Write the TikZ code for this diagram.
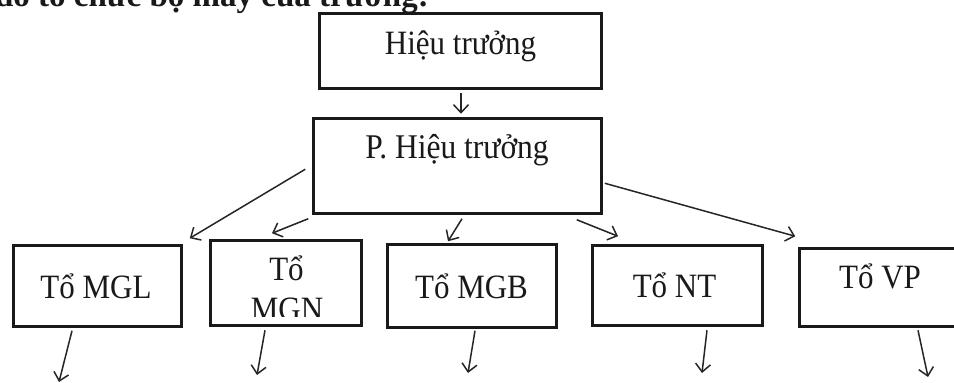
\documentclass[tikz,border=0pt]{standalone}
\usepackage{fontspec}
\usepackage{graphicx}
\setmainfont{Liberation Serif}
\usetikzlibrary{arrows.meta,calc}
\newcommand{\tallx}[1]{\scalebox{1}[1.1]{#1}}
\begin{document}
\begin{tikzpicture}[x=1pt,y=-1pt,
  box/.style={draw=black!90, line width=3.5pt, inner sep=0pt, fill=none},
  lbl/.style={inner sep=0pt, anchor=base, font=\fontsize{31}{33}\selectfont, text=black!90},
  conn/.style={draw=black!85, line width=1.5pt, -{Straight Barb[length=8pt,width=15pt,line width=1.5pt]}}
]
\useasboundingbox (0,0) rectangle (954,383);
\clip (0,0) rectangle (954,383);
\fill[white] (0,0) rectangle (954,383);

% clipped header line
\node[inner sep=0pt, anchor=base west, font=\fontsize{33}{35}\selectfont\bfseries, text=black!90] (hdr) at (-50,6) {Sơ đồ tổ chức bộ máy của trường:};

% boxes
\node[box, minimum width=282pt, minimum height=75pt] (ht) at (460.5,51) {};
\node[box, minimum width=288pt, minimum height=95pt] (pht) at (457.5,166) {};
\node[box, minimum width=168pt, minimum height=81pt] (mgl) at (97.5,286) {};
\node[box, minimum width=151pt, minimum height=85pt] (mgn) at (286,283) {};
\node[box, minimum width=169pt, minimum height=83pt] (mgb) at (472,286) {};
\node[box, minimum width=170pt, minimum height=80pt] (nt) at (677.5,285.5) {};
\node[box, minimum width=169pt, minimum height=78pt] (vp) at (884,287.5) {};

% labels
\node[lbl] (tht) at (460.5,54) {\tallx{Hiệu trưởng}};
\node[lbl, font=\fontsize{31.5}{33}\selectfont] (tpht) at (457,158) {\tallx{P. Hiệu trưởng}};
\node[lbl] (tmgl) at (96,298) {\tallx{Tổ MGL}};
\node[lbl] (tmgn1) at (286.5,280) {\tallx{Tổ}};
\begin{scope}
  \clip (200,290) rectangle (370,316);
  \node[lbl] (tmgn2) at (287,320) {\tallx{MGN}};
\end{scope}
\node[lbl] (tmgb) at (471.5,298) {\tallx{Tổ MGB}};
\node[lbl] (tnt) at (674.5,297) {\tallx{Tổ NT}};
\node[lbl] (tvp) at (880,288) {\tallx{Tổ VP}};

% connectors
\draw[conn] ($(ht.south)+(0.5,3)$) -- ($(pht.north)+(3.5,-3)$);
\draw[conn] ($(pht.north west)+(-6.5,52.5)$) -- ($(mgl.north east)+(6.5,-5.5)$);
\draw[conn] ($(pht.south west)+(-3.5,3.5)$) -- ($(mgn.north)+(-14,-5.5)$);
\draw[conn] ($(pht.south)+(4.5,3.5)$) -- ($(mgb.north)+(-24,-1.5)$);
\draw[conn] ($(pht.south east)+(-26.5,4.5)$) -- ($(nt.north)+(-59.5,-7.5)$);
\draw[conn] ($(pht.north east)+(1.5,66.5)$) -- ($(vp.north west)+(-2.5,-10.5)$);

% downward arrows with free ends
\coordinate (emgl) at (59,382);
\coordinate (emgn) at (257,375);
\coordinate (emgb) at (468,373);
\coordinate (ent) at (702,373);
\coordinate (evp) at (928,377);
\draw[conn] ($(mgl.south)+(-25.5,2.5)$) -- (emgl);
\draw[conn] ($(mgn.south)+(-21,3)$) -- (emgn);
\draw[conn] ($(mgb.south)+(3,1.5)$) -- (emgb);
\draw[conn] ($(nt.south)+(29.5,3)$) -- (ent);
\draw[conn] ($(vp.south)+(34,2)$) -- (evp);
\end{tikzpicture}
\end{document}
